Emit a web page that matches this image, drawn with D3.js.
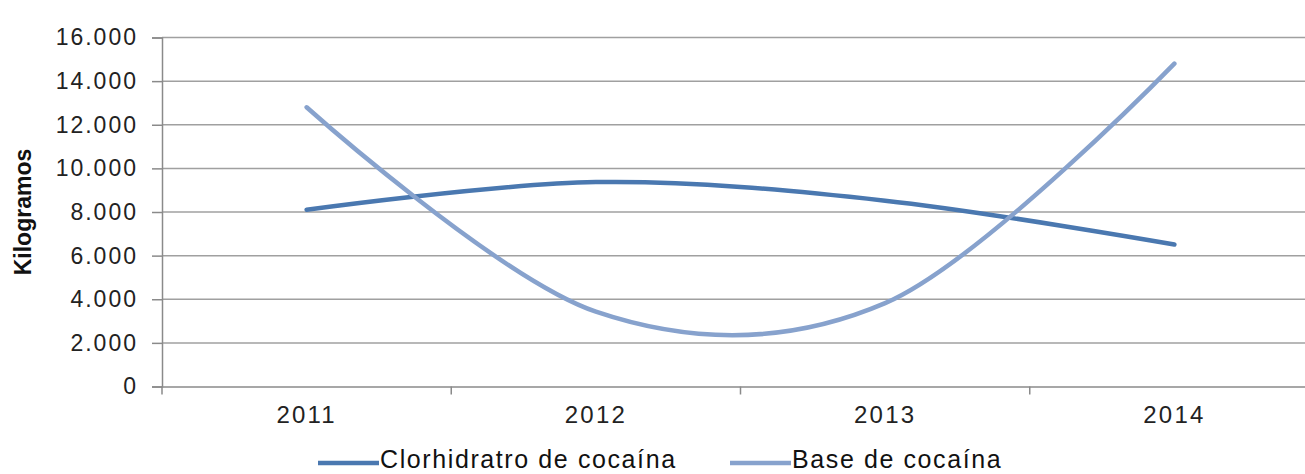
<!DOCTYPE html>
<html><head><meta charset="utf-8">
<script src="https://cdn.jsdelivr.net/npm/d3@7"></script>
<style>body{margin:0;background:#fff;overflow:hidden}svg{display:block}</style>
</head><body><svg id="c" width="1305" height="474"></svg>
<script>
const categories = ["2011","2012","2013","2014"];
const clorhidrato = [8100, 9370, 8520, 6510];
const base = [12800, 3430, 3820, 14800];
const yTicks = [0,2000,4000,6000,8000,10000,12000,14000,16000];
const seriesNames = ["Clorhidratro de cocaína","Base de cocaína"];
const colors = ["#4a78b0","#87a2cd"];

(function(){
const svg = d3.select("#c");
const pLeft = 162, pRight = 1319, pTop = 37.5, pBottom = 386.5;
const x = d3.scaleBand().domain(categories).range([pLeft,pRight]);
const y = d3.scaleLinear().domain([0,16000]).range([pBottom,pTop]);
const fmt = v => d3.format(",")(v).replace(/,/g,".");
const font = "Liberation Sans, Arial, sans-serif";

// gridlines
svg.append("g").selectAll("line").data(yTicks.filter(d=>d>0)).join("line")
  .attr("x1",pLeft).attr("x2",1305).attr("y1",d=>y(d)).attr("y2",d=>y(d))
  .attr("stroke","#a0a0a0").attr("stroke-width",1.5);

// y axis
const ya = svg.append("g").attr("transform",`translate(${pLeft},0)`)
  .call(d3.axisLeft(y).tickValues(yTicks).tickFormat(fmt).tickSize(10).tickPadding(14));
ya.select(".domain").attr("stroke","#8a8a8a").attr("stroke-width",1.5);
ya.selectAll(".tick line").attr("stroke","#8a8a8a").attr("stroke-width",1.5);
ya.selectAll("text").attr("font-family",font).attr("font-size",23).attr("fill","#222").style("letter-spacing","2px");

// x axis
const xa = svg.append("g").attr("transform",`translate(0,${pBottom})`)
  .call(d3.axisBottom(x).tickSize(0).tickPadding(19));
xa.select(".domain").attr("stroke","#8a8a8a").attr("stroke-width",1.5);
xa.selectAll("text").attr("font-family",font).attr("font-size",24).attr("fill","#222").style("letter-spacing","2.2px");
svg.append("g").selectAll("line").data(d3.range(categories.length+1)).join("line")
  .attr("x1",i=>pLeft+i*x.step()).attr("x2",i=>pLeft+i*x.step())
  .attr("y1",pBottom).attr("y2",pBottom+8).attr("stroke","#8a8a8a").attr("stroke-width",1.5);

// y title
svg.append("text").attr("transform","translate(31,212) rotate(-90)")
  .attr("text-anchor","middle").attr("font-family",font).attr("font-weight","bold")
  .attr("font-size",23).attr("fill","#111").text("Kilogramos");

// lines
const line = d3.line().x((d,i)=>x(categories[i])+x.bandwidth()/2).y(d=>y(d)).curve(d3.curveCardinal.tension(0));
[clorhidrato, base].forEach((s,k)=>{
  svg.append("path").datum(s).attr("d",line).attr("fill","none")
    .attr("stroke",colors[k]).attr("stroke-width",4.5).attr("stroke-linecap","round");
});

// legend
const legX = [318, 730];
seriesNames.forEach((n,k)=>{
  const g = svg.append("g").attr("transform",`translate(${legX[k]},463)`);
  g.append("line").attr("x1",0).attr("x2",61).attr("y1",0).attr("y2",0)
    .attr("stroke",colors[k]).attr("stroke-width",4.5);
  g.append("text").attr("x",62).attr("y",5).attr("font-family",font).attr("font-size",25)
    .attr("fill","#111").style("letter-spacing","1.6px").text(n);
});
})();
</script></body></html>
